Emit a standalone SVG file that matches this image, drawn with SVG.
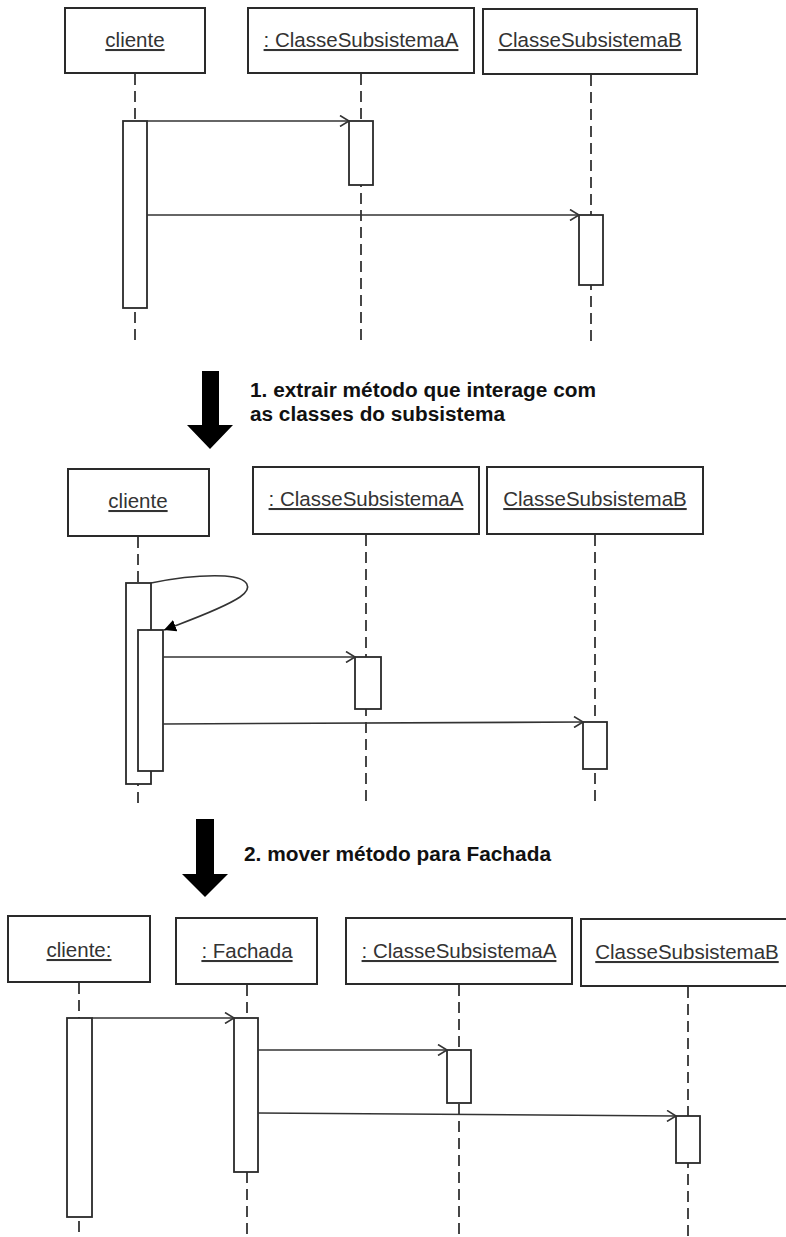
<svg xmlns="http://www.w3.org/2000/svg" width="786" height="1237" viewBox="0 0 786 1237">
<style>
.box{fill:#fff;stroke:#2a2a2a;stroke-width:2}
.act{fill:#fff;stroke:#2a2a2a;stroke-width:1.8}
.life{stroke:#333;stroke-width:1.8;stroke-dasharray:11 6;fill:none}
.msg{stroke:#333;stroke-width:1.6;fill:none}
.lbl{font-family:"Liberation Sans",Arial,sans-serif;font-size:20.5px;fill:#333;text-anchor:middle;text-decoration:underline}
.note{font-family:"Liberation Sans Narrow","Liberation Sans",Arial,sans-serif;font-weight:bold;font-size:20px;fill:#111}
.big{fill:#000}
</style>
<defs>
<marker id="open" markerWidth="12" markerHeight="12" refX="10" refY="6" orient="auto" markerUnits="userSpaceOnUse">
<path d="M1,0.5 L10,6 L1,11.5" fill="none" stroke="#333" stroke-width="1.6"/>
</marker>
<marker id="filled" markerWidth="14" markerHeight="12" refX="12" refY="6" orient="auto" markerUnits="userSpaceOnUse">
<path d="M0,0 L12,6 L0,12 Z" fill="#000"/>
</marker>
</defs>

<!-- Section 1 -->
<g id="s1-lifelines">
<line class="life" x1="135" y1="74" x2="135" y2="343"/>
<line class="life" x1="361" y1="74" x2="361" y2="343"/>
<line class="life" x1="591" y1="75" x2="591" y2="343"/>
</g>
<g id="s1-cliente">
<rect class="box" x="65" y="8" width="140" height="65"/>
<text class="lbl" x="135" y="47">cliente</text>
<rect class="act" x="123" y="121" width="24" height="187"/>
</g>
<g id="s1-A">
<rect class="box" x="248" y="8" width="226" height="65"/>
<text class="lbl" x="361" y="47">: ClasseSubsistemaA</text>
<rect class="act" x="349" y="121" width="24" height="64"/>
</g>
<g id="s1-B">
<rect class="box" x="483" y="9" width="214" height="65"/>
<text class="lbl" x="590" y="47">ClasseSubsistemaB</text>
<rect class="act" x="579" y="215" width="24" height="70"/>
</g>
<g id="s1-connectors">
<line class="msg" x1="147" y1="121" x2="349" y2="121" marker-end="url(#open)"/>
<line class="msg" x1="147" y1="215" x2="579" y2="215" marker-end="url(#open)"/>
</g>

<!-- Step 1 -->
<g id="step1">
<polygon class="big" points="202,371 219,371 219,425 233,425 210,449 187,425 202,425"/>
<text class="note" x="250" y="397" textLength="346" lengthAdjust="spacingAndGlyphs">1. extrair método que interage com</text>
<text class="note" x="250" y="421" textLength="255" lengthAdjust="spacingAndGlyphs">as classes do subsistema</text>
</g>

<!-- Section 2 -->
<g id="s2-lifelines">
<line class="life" x1="138" y1="537" x2="138" y2="806"/>
<line class="life" x1="366" y1="535" x2="366" y2="806"/>
<line class="life" x1="595" y1="535" x2="595" y2="806"/>
</g>
<g id="s2-cliente">
<rect class="box" x="68" y="469" width="141" height="67"/>
<text class="lbl" x="138" y="508">cliente</text>
<rect class="act" x="126" y="583" width="25" height="201"/>
<rect class="act" x="138" y="630" width="25" height="141"/>
</g>
<g id="s2-A">
<rect class="box" x="253" y="467" width="226" height="67"/>
<text class="lbl" x="366" y="506">: ClasseSubsistemaA</text>
<rect class="act" x="355" y="657" width="26" height="52"/>
</g>
<g id="s2-B">
<rect class="box" x="487" y="467" width="216" height="67"/>
<text class="lbl" x="595" y="506">ClasseSubsistemaB</text>
<rect class="act" x="583" y="722" width="24" height="47"/>
</g>
<g id="s2-connectors">
<path class="msg" d="M151,583 C180,577 205,575 225,576 C250,578 253,588 240,597 C222,609 190,620 164,630" marker-end="url(#filled)"/>
<line class="msg" x1="163" y1="657" x2="355" y2="657" marker-end="url(#open)"/>
<line class="msg" x1="163" y1="724" x2="583" y2="722" marker-end="url(#open)"/>
</g>

<!-- Step 2 -->
<g id="step2">
<polygon class="big" points="196,819 214,819 214,874 228,874 205,897 182,874 196,874"/>
<text class="note" x="244" y="861" textLength="307" lengthAdjust="spacingAndGlyphs">2. mover método para Fachada</text>
</g>

<!-- Section 3 -->
<g id="s3-lifelines">
<line class="life" x1="79" y1="983" x2="79" y2="1237"/>
<line class="life" x1="247" y1="985" x2="247" y2="1237"/>
<line class="life" x1="459" y1="985" x2="459" y2="1237"/>
<line class="life" x1="688" y1="987" x2="688" y2="1237"/>
</g>
<g id="s3-cliente">
<rect class="box" x="8" y="916" width="142" height="66"/>
<text class="lbl" x="79" y="957">cliente:</text>
<rect class="act" x="67" y="1018" width="25" height="199"/>
</g>
<g id="s3-fachada">
<rect class="box" x="176" y="918" width="141" height="66"/>
<text class="lbl" x="247" y="958">: Fachada</text>
<rect class="act" x="234" y="1018" width="24" height="154"/>
</g>
<g id="s3-A">
<rect class="box" x="346" y="918" width="226" height="66"/>
<text class="lbl" x="459" y="958">: ClasseSubsistemaA</text>
<rect class="act" x="447" y="1050" width="24" height="53"/>
</g>
<g id="s3-B">
<rect class="box" x="581" y="919" width="206" height="67"/>
<text class="lbl" x="687" y="959">ClasseSubsistemaB</text>
<rect class="act" x="676" y="1116" width="24" height="47"/>
</g>
<g id="s3-connectors">
<line class="msg" x1="92" y1="1018" x2="234" y2="1018" marker-end="url(#open)"/>
<line class="msg" x1="258" y1="1050" x2="447" y2="1050" marker-end="url(#open)"/>
<line class="msg" x1="258" y1="1113" x2="676" y2="1116" marker-end="url(#open)"/>
</g>
</svg>
